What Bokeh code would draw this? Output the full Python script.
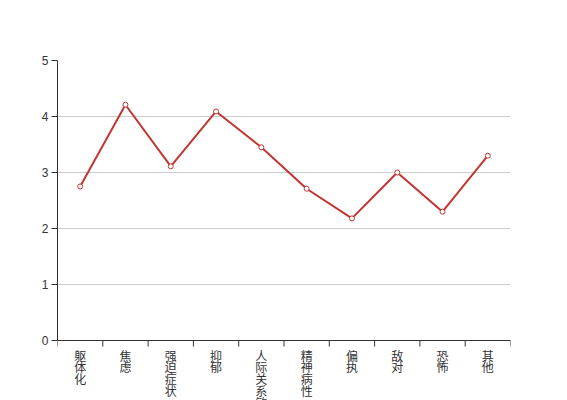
from bokeh.plotting import figure
from bokeh.models import FixedTicker, Range1d, Span
from bokeh.core.properties import value
from bokeh.embed import file_html
from bokeh.resources import INLINE

categories = ["躯体化", "焦虑", "强迫症状", "抑郁", "人际关系敏感", "精神病性", "偏执", "敌对", "恐怖", "其他"]
values = [2.75, 4.21, 3.11, 4.09, 3.45, 2.71, 2.18, 3.0, 2.30, 3.30]
y_ticks = [0, 1, 2, 3, 4, 5]

n = len(categories)
xs = [i + 0.5 for i in range(n)]
bounds = list(range(n + 1))

# frame: 453 px wide, 340 px tall; 56 px per y unit -> frame extends below 0
px_per_unit = 56.0
y_max = 5
y_min = y_max - 340.0 / px_per_unit

p = figure(width=559, height=400, output_backend="svg", toolbar_location=None,
           x_range=Range1d(0, n), y_range=Range1d(y_min, y_max),
           x_axis_location=None,
           min_border_left=57, min_border_right=49, min_border_top=60, min_border_bottom=0)
p.outline_line_color = None
p.background_fill_color = "white"

# y axis limited to 0..5
p.yaxis.bounds = (0, 5)
p.yaxis.ticker = FixedTicker(ticks=y_ticks, minor_ticks=[])
p.yaxis.major_tick_out = 6
p.yaxis.major_tick_in = 0
p.yaxis.major_tick_line_color = "#333333"
p.yaxis.axis_line_color = "#333333"
p.yaxis.major_label_text_font = "Liberation Sans"
p.yaxis.major_label_text_font_size = "12px"
p.yaxis.major_label_text_color = "#333333"
p.yaxis.major_label_standoff = 3

p.xgrid.grid_line_color = None
p.ygrid.grid_line_color = "#cccccc"
p.ygrid.ticker = FixedTicker(ticks=y_ticks[1:])

# x axis line at y = 0 with ticks at band boundaries
p.add_layout(Span(location=0, dimension="width", line_color="#333333", line_width=1))
tick_len = 6.0 / px_per_unit
p.segment(x0=bounds, y0=[0] * len(bounds), x1=bounds, y1=[-tick_len] * len(bounds),
          line_color="#333333", line_width=1)

# category labels, one character per line
p.text(x=xs, y=[0] * n, text=["\n".join(list(c)) for c in categories],
       text_font=value("Noto Sans CJK SC"), text_font_size="12px", text_color="#333333",
       text_align="center", text_baseline="top", text_line_height=0.7, y_offset=6)

p.line(xs, values, line_color="#c23531", line_width=2)
p.scatter(xs, values, size=5, fill_color="white", line_color="#c23531", line_width=1)

open("out.html", "w").write(file_html(p, INLINE))
